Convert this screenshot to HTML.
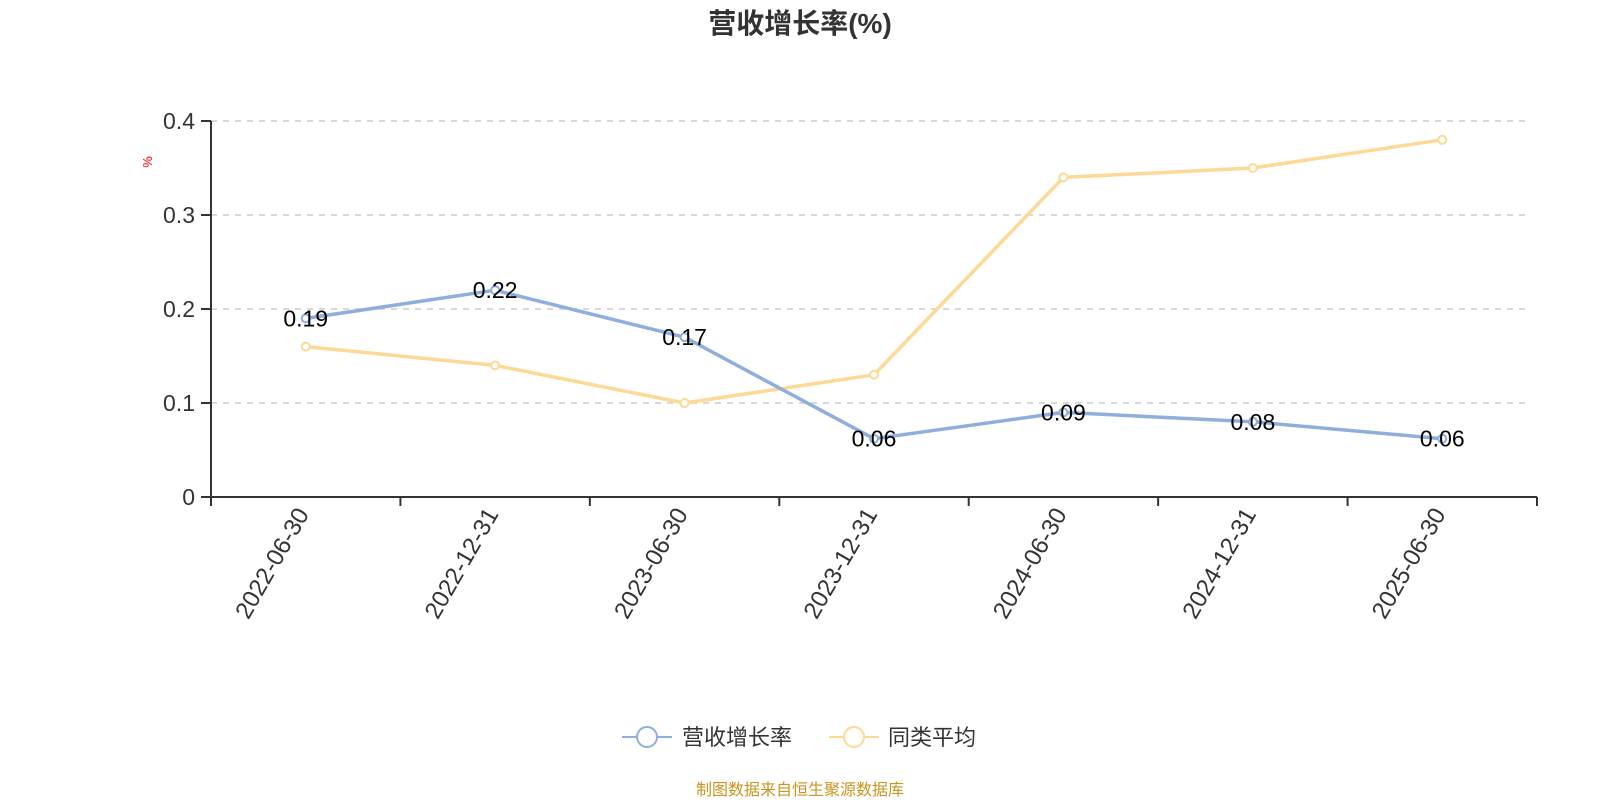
<!DOCTYPE html>
<html><head><meta charset="utf-8"><style>
body{margin:0;background:#fff;}
svg{display:block;font-family:"Liberation Sans","Noto Sans CJK SC",sans-serif;}
</style></head><body>
<svg id="chart" width="1600" height="800">
<text x="800" y="33" text-anchor="middle" font-size="28" font-weight="bold" fill="#333">营收增长率(%)</text>
<text transform="translate(152,162) rotate(-90)" text-anchor="middle" font-size="13" fill="red">%</text>
<g id="grid"></g><g id="axes"></g><g id="series"></g><g id="labels"></g>
<g>
<g>
<line x1="622" y1="737" x2="672" y2="737" stroke="#8eaedc" stroke-width="2"/>
<circle cx="647" cy="737" r="10" fill="#fff" stroke="#8eaedc" stroke-width="2"/>
<text x="682" y="745" font-size="22" fill="#333">营收增长率</text></g>
<g>
<line x1="829" y1="737" x2="879" y2="737" stroke="#fcd994" stroke-width="2"/>
<circle cx="854" cy="737" r="10" fill="#fff" stroke="#fcd994" stroke-width="2"/>
<text x="888" y="745" font-size="22" fill="#333">同类平均</text></g>
</g>
<text x="800" y="795" text-anchor="middle" font-size="16" fill="#c8941e">制图数据来自恒生聚源数据库</text>
</svg>
<script>
const categories=["2022-06-30","2022-12-31","2023-06-30","2023-12-31","2024-06-30","2024-12-31","2025-06-30"];
const growthValues=[0.19,0.22,0.17,0.062,0.09,0.08,0.062];
const growthLabels=["0.19","0.22","0.17","0.06","0.09","0.08","0.06"];
const peerValues=[0.16,0.14,0.10,0.13,0.34,0.35,0.38];
const yTicks=[0,0.1,0.2,0.3,0.4];
const yTickLabels=["0","0.1","0.2","0.3","0.4"];
const NS="http://www.w3.org/2000/svg";
const L=211,R=1537,T=121,B=497,yMax=0.4;
const band=(R-L)/categories.length;
const xS=i=>L+band*(i+0.5);
const yS=v=>B-(v/yMax)*(B-T);
function mk(tag,attrs,parent){const e=document.createElementNS(NS,tag);for(const k in attrs)e.setAttribute(k,attrs[k]);document.getElementById(parent).appendChild(e);return e;}
yTicks.forEach((t,i)=>{
 if(t>0){const g=mk('line',{x1:L,x2:R-7,y1:yS(t),y2:yS(t),stroke:'#ccc','stroke-width':1.5,'stroke-dasharray':'6,6'},'grid');
 
 }
 const tk=mk('line',{x1:L-10,x2:L,y1:yS(t),y2:yS(t),stroke:'#333','stroke-width':2},'axes');
 
 
 const tl=mk('text',{x:L-16,y:yS(t)+8,'text-anchor':'end','font-size':23,fill:'#333'},'axes');
 tl.textContent=yTickLabels[i];
 
 
});
const ya=mk('line',{x1:L,x2:L,y1:T,y2:B,stroke:'#333','stroke-width':2},'axes');


const xa=mk('line',{x1:L,x2:R,y1:B,y2:B,stroke:'#333','stroke-width':2},'axes');


for(let i=0;i<=categories.length;i++){const t=mk('line',{x1:L+band*i,x2:L+band*i,y1:B,y2:B+9,stroke:'#333','stroke-width':2},'axes');
 
 }
categories.forEach((c,i)=>{
 const t=mk('text',{transform:`translate(${xS(i)+4},${B+17}) rotate(-60)`,'text-anchor':'end','font-size':24,fill:'#333'},'axes');
 t.textContent=c;
 
 
});
function series(vals,color,name){
 const p=mk('polyline',{points:vals.map((v,i)=>xS(i)+','+yS(v)).join(' '),fill:'none',stroke:color,'stroke-width':3.5,'stroke-linejoin':'round'},'series');
 
 
 vals.forEach((v,i)=>{const c=mk('circle',{cx:xS(i),cy:yS(v),r:4,fill:'#fff',stroke:color,'stroke-width':2},'series');
 
 });
}
series(peerValues,'#fcd994','peer-average');
series(growthValues,'#8eaedc','revenue-growth');
growthValues.forEach((v,i)=>{
 const t=mk('text',{x:xS(i),y:yS(v)+8,'text-anchor':'middle','font-size':23,fill:'#000'},'labels');
 t.textContent=growthLabels[i];
 
 
});
</script>
</body></html>
